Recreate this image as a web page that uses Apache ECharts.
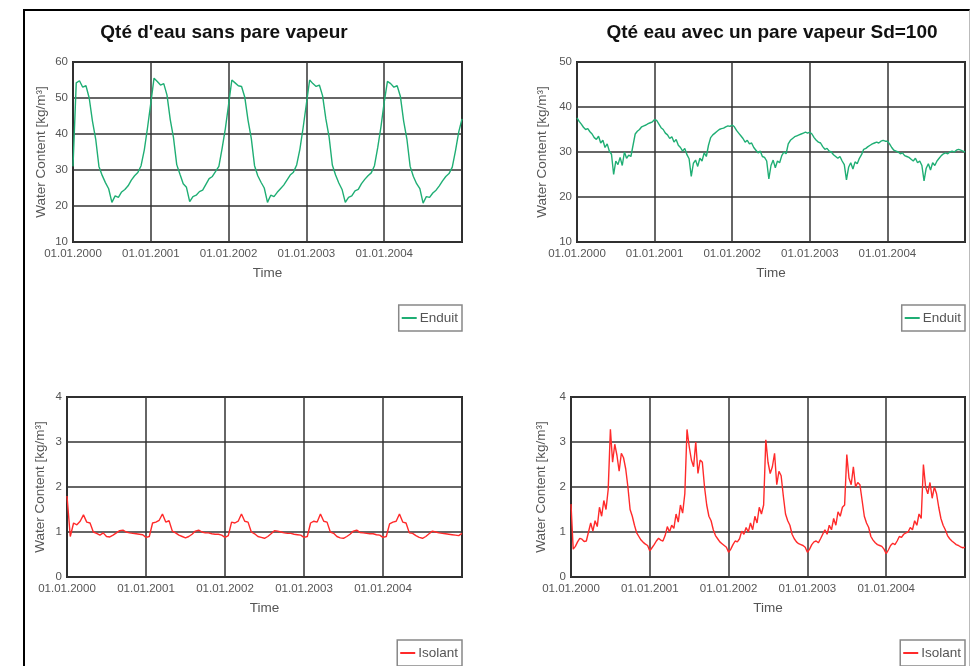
<!DOCTYPE html>
<html>
<head>
<meta charset="utf-8">
<script src="https://cdn.jsdelivr.net/npm/echarts@6/dist/echarts.min.js"></script>
<style>
  html, body { margin: 0; padding: 0; background: #fff; }
  #wrap { position: relative; width: 972px; height: 666px; overflow: hidden; }
  #frame { position: absolute; left: 23px; top: 9px; width: 944px; height: 700px;
           border-left: 2.5px solid #000; border-top: 2.5px solid #000; border-right: 1px solid #bbb; }
  #chart { position: absolute; left: 0; top: 0; width: 972px; height: 666px; }
</style>
</head>
<body>
<div id="wrap"><div id="frame"></div><div id="chart"></div></div>
<script>
// ---- data ----
const yearTicks = [2000, 2001, 2002, 2003, 2004, 2005];
const titles = ["Qté d'eau sans pare vapeur", "Qté eau avec un pare vapeur Sd=100"];
const yName = 'Water Content [kg/m³]';
const xName = 'Time';

// Enduit, no vapour barrier (samples every 1/24 year)
const enduitSansPerYear = 24;
const enduitSans = [
  31.0, 54.2, 54.8, 53.0, 53.4, 50.0, 43.6, 38.6, 31.0, 28.5, 26.5, 24.8, 21.0, 22.8, 22.4, 23.9, 24.6, 25.6, 27.2, 28.4, 29.3, 31.2, 35.6, 41.8,
  48.6, 55.5, 54.6, 53.6, 54.0, 50.8, 44.0, 39.0, 31.5, 28.8, 26.2, 25.2, 21.2, 22.6, 23.0, 24.0, 24.4, 26.0, 27.6, 28.2, 29.6, 31.0, 36.0, 41.5,
  48.2, 55.0, 54.2, 53.4, 53.2, 50.2, 43.8, 38.8, 31.2, 28.4, 26.6, 25.0, 21.0, 23.0, 22.6, 23.8, 24.8, 25.8, 27.2, 28.6, 29.4, 31.4, 35.8, 41.8,
  48.4, 55.0, 54.0, 53.2, 53.6, 50.6, 44.2, 39.2, 31.4, 28.6, 26.4, 24.6, 21.0, 22.4, 22.8, 24.2, 24.6, 26.2, 27.4, 28.4, 29.2, 31.2, 36.2, 42.0,
  48.8, 54.6, 54.0, 53.0, 53.4, 50.4, 43.6, 38.6, 31.0, 28.2, 26.2, 24.8, 20.8, 22.6, 22.4, 23.6, 24.4, 25.6, 27.0, 28.2, 29.0, 30.8, 35.4, 40.6,
  44.2
];

// Enduit, vapour barrier Sd=100 (samples every 1/36 year)
const enduitSdPerYear = 36;
const enduitSd = [
  37.6, 36.8, 36.2, 35.5, 35.0, 35.2, 34.5, 34.0, 33.2, 32.8, 33.5, 32.0, 32.6, 31.0, 31.8, 30.2, 29.5, 25.0, 28.0, 27.2, 28.8, 27.0, 30.0, 28.6, 29.3, 29.0, 31.5, 34.0, 34.6, 35.0, 35.6, 35.8, 36.0, 36.3, 36.5, 36.7,
  37.2, 37.0, 36.2, 35.4, 35.0, 34.2, 33.8, 33.0, 33.4, 32.2, 32.8, 31.5, 31.0, 30.2, 30.8, 29.4, 28.5, 24.6, 27.5, 28.2, 26.8, 28.6, 28.0, 29.8, 29.0, 31.5, 33.2, 33.8, 34.2, 34.6, 35.0, 35.2, 35.3, 35.6, 35.8, 35.7,
  36.0, 35.6, 34.8, 34.2, 33.6, 33.0, 32.2, 32.6, 31.8, 32.0, 31.0, 30.4, 29.8, 30.2, 29.0, 28.8, 28.0, 24.0, 27.0, 28.2, 26.5, 28.0, 27.6, 29.2, 30.0, 29.6, 31.8, 32.6, 33.0, 33.4, 33.6, 33.8, 34.0, 34.2, 34.4, 34.2,
  34.4, 34.0, 33.2, 32.6, 32.2, 32.0, 31.2, 30.6, 30.8, 30.2, 30.0, 29.4, 29.0, 28.6, 29.0, 28.0, 27.2, 23.8, 26.6, 27.6, 26.2, 27.8, 27.4, 28.6, 29.4, 30.6, 30.8, 31.2, 31.5, 31.8, 32.0, 32.2, 32.0, 32.4, 32.6, 32.4,
  32.4, 31.8, 31.0, 30.4, 30.2, 30.0, 29.6, 29.8, 29.2, 29.0, 28.8, 28.4, 28.0, 28.6, 27.6, 28.0, 27.0, 23.6, 26.4, 27.4, 26.0, 27.6, 27.0, 28.0, 28.6, 29.2, 29.6, 29.8, 29.6, 30.0, 30.2, 30.0, 30.4, 30.6, 30.4, 30.2,
  30.0
];

// Isolant, no vapour barrier (samples every 1/24 year)
const isolantSansPerYear = 24;
const isolantSans = [
  1.80, 0.90, 1.20, 1.16, 1.24, 1.38, 1.22, 1.20, 1.00, 0.97, 0.93, 0.98, 0.90, 0.89, 0.93, 0.98, 1.03, 1.04, 1.00, 0.98, 0.97, 0.96, 0.95, 0.94,
  0.88, 0.90, 1.20, 1.22, 1.26, 1.40, 1.22, 1.25, 1.02, 0.98, 0.93, 0.90, 0.87, 0.90, 0.95, 1.02, 1.04, 1.00, 0.98, 0.98, 0.96, 0.95, 0.95, 0.93,
  0.88, 0.92, 1.22, 1.20, 1.24, 1.40, 1.24, 1.22, 1.00, 0.96, 0.90, 0.88, 0.86, 0.90, 0.96, 1.03, 1.02, 1.00, 0.98, 0.97, 0.97, 0.95, 0.94, 0.93,
  0.88, 0.90, 1.20, 1.24, 1.22, 1.40, 1.24, 1.22, 1.00, 0.97, 0.90, 0.87, 0.86, 0.90, 0.95, 1.02, 1.04, 0.99, 0.98, 0.97, 0.96, 0.96, 0.94, 0.93,
  0.88, 0.90, 1.18, 1.22, 1.24, 1.40, 1.22, 1.20, 0.98, 0.97, 0.92, 0.88, 0.86, 0.90, 0.96, 1.02, 1.00, 0.98, 0.97, 0.96, 0.95, 0.94, 0.93, 0.92,
  0.97
];

// Isolant, vapour barrier Sd=100 (samples every 1/36 year)
const isolantSdPerYear = 36;
const isolantSd = [
  1.62, 0.62, 0.68, 0.78, 0.86, 0.84, 0.79, 0.80, 1.00, 1.20, 1.02, 1.25, 1.12, 1.55, 1.35, 1.70, 1.50, 1.95, 3.28, 2.55, 2.95, 2.70, 2.35, 2.75, 2.65, 2.40, 2.00, 1.50, 1.35, 1.15, 0.98, 0.90, 0.82, 0.77, 0.73, 0.70,
  0.58, 0.65, 0.72, 0.80, 0.86, 0.82, 0.80, 0.92, 1.12, 1.00, 1.15, 1.08, 1.40, 1.22, 1.60, 1.42, 1.85, 3.28, 2.90, 2.60, 2.45, 3.00, 2.30, 2.60, 2.55, 2.00, 1.60, 1.35, 1.25, 1.05, 0.92, 0.85, 0.78, 0.74, 0.70, 0.66,
  0.55, 0.62, 0.72, 0.80, 0.78, 0.85, 1.02, 0.95, 1.10, 1.00, 1.20, 1.05, 1.35, 1.20, 1.55, 1.40, 1.60, 3.05, 2.55, 2.30, 2.45, 2.75, 2.05, 2.35, 2.25, 1.80, 1.40, 1.25, 1.15, 0.95, 0.85, 0.78, 0.74, 0.72, 0.70, 0.66,
  0.55, 0.62, 0.72, 0.78, 0.80, 0.76, 0.85, 0.95, 1.05, 0.95, 1.15, 1.05, 1.30, 1.15, 1.45, 1.35, 1.55, 1.60, 2.72, 2.20, 2.05, 2.45, 2.00, 2.10, 2.05, 1.70, 1.35, 1.20, 1.10, 0.90, 0.82, 0.76, 0.72, 0.70, 0.68, 0.62,
  0.52, 0.60, 0.70, 0.75, 0.72, 0.80, 0.90, 0.88, 0.95, 0.98, 1.00, 1.10, 1.05, 1.25, 1.15, 1.40, 1.30, 2.50, 2.00, 1.85, 2.10, 1.75, 2.00, 1.85, 1.55, 1.30, 1.15, 1.05, 0.92, 0.85, 0.80, 0.76, 0.72, 0.70, 0.67, 0.65,
  0.66
];

// ---- build ----
const GREEN = '#1fae74';
const RED = '#ff2a2a';
const FONT = 'Liberation Sans, Arial, sans-serif';
const toPairs = (vals, perYear) => vals.map((v, i) => [yearTicks[0] + i / perYear, v]);

const grids = [
  { left: 73, top: 62, width: 389, height: 180 },
  { left: 577, top: 62, width: 388, height: 180 },
  { left: 67, top: 397, width: 395, height: 180 },
  { left: 571, top: 397, width: 394, height: 180 }
].map(g => Object.assign({ show: true, borderColor: '#2a2a2a', borderWidth: 2, backgroundColor: 'transparent' }, g));

const yRanges = [[10, 60, 10], [10, 50, 10], [0, 4, 1], [0, 4, 1]];
const yGaps = [25, 28, 20, 23];

const xAxes = grids.map((g, i) => ({
  type: 'value', gridIndex: i, min: yearTicks[0], max: yearTicks[yearTicks.length - 1], interval: 1,
  axisLine: { show: false }, axisTick: { show: false },
  splitLine: { show: true, lineStyle: { color: '#333', width: 1.5 } },
  axisLabel: { color: '#555', fontSize: 11.5, fontFamily: FONT, margin: 6,
    formatter: v => v < yearTicks[yearTicks.length - 1] ? '01.01.' + v : '' },
  name: xName, nameLocation: 'middle', nameGap: 24,
  nameTextStyle: { color: '#555', fontSize: 13.5, fontFamily: FONT }
}));

const yAxes = yRanges.map((r, i) => ({
  type: 'value', gridIndex: i, min: r[0], max: r[1], interval: r[2],
  axisLine: { show: false }, axisTick: { show: false },
  splitLine: { show: true, lineStyle: { color: '#333', width: 1.5 } },
  axisLabel: { color: '#555', fontSize: 11.5, fontFamily: FONT, margin: 5 },
  name: yName, nameLocation: 'middle', nameGap: yGaps[i], nameRotate: 90,
  nameTextStyle: { color: '#555', fontSize: 13.5, fontFamily: FONT }
}));

const mk = (name, data, perYear, idx, color) => ({
  name, type: 'line', xAxisIndex: idx, yAxisIndex: idx, data: toPairs(data, perYear),
  symbol: 'none', showSymbol: false, animation: false,
  lineStyle: { color, width: 1.4 }, itemStyle: { color }
});

const series = [
  mk('Enduit', enduitSans, enduitSansPerYear, 0, GREEN),
  mk('Enduit', enduitSd, enduitSdPerYear, 1, GREEN),
  mk('Isolant', isolantSans, isolantSansPerYear, 2, RED),
  mk('Isolant', isolantSd, isolantSdPerYear, 3, RED)
];

const legendPos = [
  { right: 510, top: 305, name: 'Enduit' },
  { right: 7, top: 305, name: 'Enduit' },
  { right: 510, top: 640, name: 'Isolant' },
  { right: 7, top: 640, name: 'Isolant' }
];
const legends = legendPos.map(p => ({
  right: p.right, top: p.top, data: [p.name], orient: 'horizontal',
  borderColor: '#888', borderWidth: 1.5, padding: [6, 4, 6, 3],
  icon: 'rect', itemWidth: 15, itemHeight: 2, itemGap: 4,
  textStyle: { color: '#555', fontSize: 13.5, fontFamily: FONT, padding: [0, 0, 0, -2] },
  selectedMode: false
}));

const option = {
  animation: false,
  backgroundColor: 'transparent',
  title: [
    { text: titles[0], left: 219, top: 18, textAlign: 'center',
      textStyle: { fontSize: 19, fontWeight: 'bold', color: '#111', fontFamily: FONT } },
    { text: titles[1], left: 767, top: 18, textAlign: 'center',
      textStyle: { fontSize: 19, fontWeight: 'bold', color: '#111', fontFamily: FONT } }
  ],
  legend: legends,
  grid: grids,
  xAxis: xAxes,
  yAxis: yAxes,
  series
};

const chart = echarts.init(document.getElementById('chart'), null, { renderer: 'canvas' });
chart.setOption(option);
</script>
</body>
</html>
